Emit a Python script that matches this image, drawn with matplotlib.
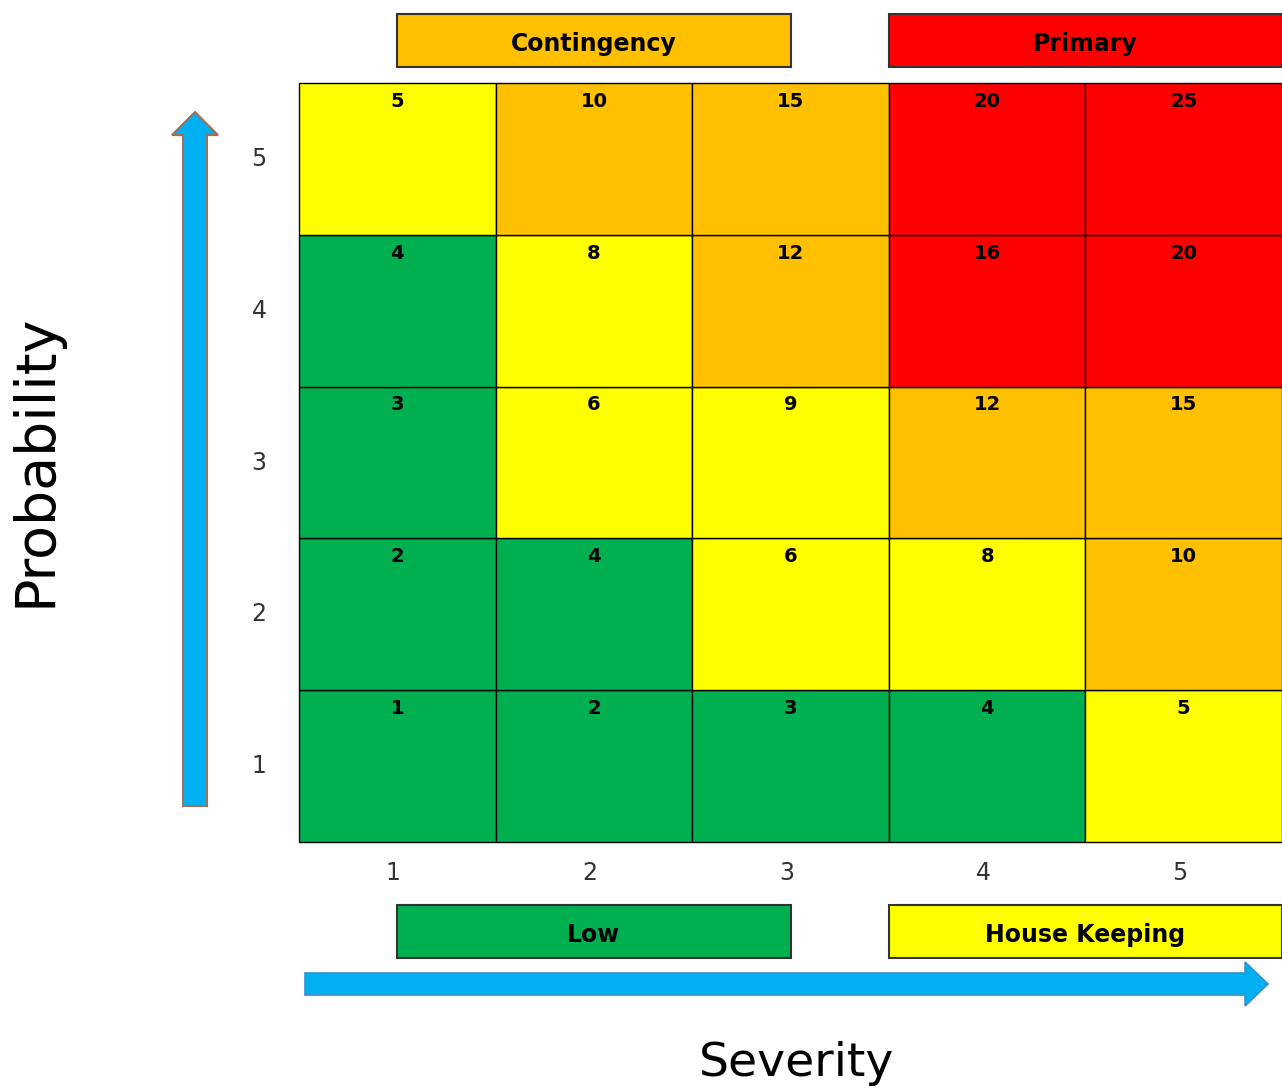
import matplotlib
matplotlib.use('Agg')
from matplotlib import pyplot as plt
from matplotlib.patches import Rectangle, Polygon

# risk matrix: score = severity * probability
severity = [1, 2, 3, 4, 5]
probability = [1, 2, 3, 4, 5]
scores = [[s * p for s in severity] for p in probability]

# score bands -> fill colour
band_limits = [4, 9, 15, 25]
band_colors = ['#00B050', '#FFFF00', '#FFC000', '#FF0000']

# category boxes: (label, x from, x to, colour, top row?)
categories = [
    ('Contingency', 1.0, 3.0, '#FFC000', True),
    ('Primary', 3.5, 5.5, '#FF0000', True),
    ('Low', 1.0, 3.0, '#00B050', False),
    ('House Keeping', 3.5, 5.5, '#FFFF00', False),
]

ARROW_BLUE = '#00B0F0'


def band_color(score):
    for limit, color in zip(band_limits, band_colors):
        if score <= limit:
            return color
    return band_colors[-1]


fig = plt.figure(figsize=(12.82, 10.90), dpi=100)
ax = fig.add_axes([299 / 1282, 248 / 1090, 983 / 1282, 759 / 1090])
ax.set_xlim(0.5, 5.5)
ax.set_ylim(0.5, 5.5)
ax.axis('off')

for i, p in enumerate(probability):
    for j, s in enumerate(severity):
        score = scores[i][j]
        ax.add_patch(Rectangle((s - 0.5, p - 0.5), 1, 1,
                               facecolor=band_color(score),
                               edgecolor='black', lw=1, clip_on=False))
        ax.text(s, p + 0.38, str(score), ha='center', va='center',
                fontsize=14, fontweight='bold', color='black')

# axis numbers
for s in severity:
    ax.text(s - 0.02, 0.296, str(s), ha='center', va='center',
            fontsize=17, color='#333333')
for p in probability:
    ax.text(0.297, p, str(p), ha='center', va='center',
            fontsize=17, color='#333333')

# category boxes above and below the grid
for label, x0, x1, color, top in categories:
    y0, y1 = (5.605, 5.955) if top else (-0.264, 0.085)
    ax.add_patch(Rectangle((x0, y0), x1 - x0, y1 - y0, facecolor=color,
                           edgecolor='#333333', lw=1.5, clip_on=False))
    ax.text((x0 + x1) / 2, (y0 + y1) / 2 - 0.02, label, ha='center',
            va='center', fontsize=17, fontweight='bold', color='black')

# vertical arrow (probability)
cx, hw, hh = -0.029, 0.061, 0.117
yb, yh, yt = 0.737, 5.157, 5.309
ax.add_patch(Polygon([(cx - hw, yb), (cx + hw, yb), (cx + hw, yh),
                      (cx + hh, yh), (cx, yt), (cx - hh, yh),
                      (cx - hw, yh)], closed=True, facecolor=ARROW_BLUE,
                     edgecolor='#A0705A', lw=1.5, clip_on=False))

# horizontal arrow (severity)
cy, hw, hh = -0.4355, 0.0725, 0.145
xs, xh, xt = 0.5305, 5.312, 5.429
ax.add_patch(Polygon([(xs, cy - hw), (xh, cy - hw), (xh, cy - hh),
                      (xt, cy), (xh, cy + hh), (xh, cy + hw),
                      (xs, cy + hw)], closed=True, facecolor=ARROW_BLUE,
                     edgecolor='#3A8FD0', lw=1.2, clip_on=False))

ax.text(-0.838, 3.016, 'Probability', rotation=90, ha='center', va='center',
        fontsize=40, color='black')
ax.text(3.033, -1.0415, 'Severity', ha='center', va='baseline',
        fontsize=34, color='black')

fig.savefig('out.png', dpi=100)
